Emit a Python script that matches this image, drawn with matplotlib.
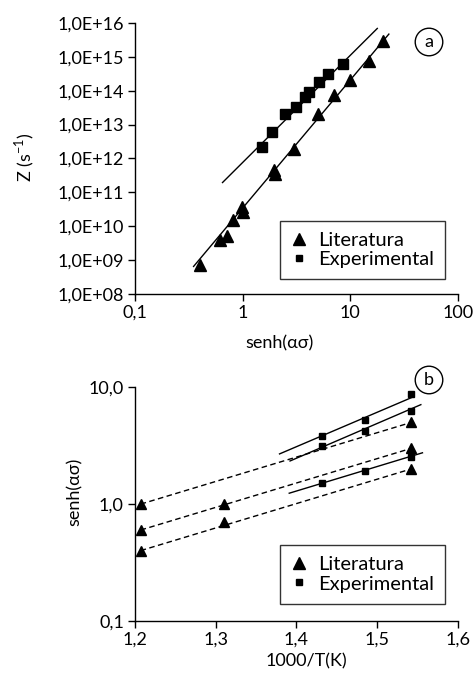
import matplotlib
matplotlib.use("Agg")
import matplotlib.pyplot as plt
from matplotlib.lines import Line2D

plt.rcParams['font.family'] = ['Lato', 'DejaVu Sans']
plt.rcParams['mathtext.fontset'] = 'custom'
plt.rcParams['mathtext.rm'] = 'Lato'

# ---- (a) Z vs senh(alpha*sigma) ----
lit_x = [0.40, 0.61, 0.71, 0.82, 0.99, 1.0, 1.96, 2.0, 3.0, 5.0, 7.1, 10, 15, 20]
lit_z = [7.2e8, 3.8e9, 5.0e9, 1.5e10, 3.8e10, 2.7e10, 4.6e11, 3.5e11, 1.9e12,
         2.0e13, 7.5e13, 2.1e14, 7.7e14, 3.0e15]
exp_x = [1.5, 1.88, 2.49, 3.15, 3.8, 4.13, 5.1, 6.2, 8.5]
exp_z = [2.2e12, 6.2e12, 2.0e13, 3.3e13, 6.7e13, 9.4e13, 1.85e14, 3.1e14, 6.2e14]
lit_fit_x = [0.35, 22.8]
lit_fit_z = [6.5e8, 4.7e15]
exp_fit_x = [0.65, 17.8]
exp_fit_z = [1.95e11, 6.9e15]

a_xticks = [0.1, 1, 10, 100]
a_xlabels = ['0,1', '1', '10', '100']
a_yticks = [1e8, 1e9, 1e10, 1e11, 1e12, 1e13, 1e14, 1e15, 1e16]
a_ylabels = ['1,0E+08', '1,0E+09', '1,0E+10', '1,0E+11', '1,0E+12',
             '1,0E+13', '1,0E+14', '1,0E+15', '1,0E+16']

# ---- (b) senh(alpha*sigma) vs 1000/T ----
lit_b_x = [[1.207, 1.542], [1.207, 1.31, 1.542], [1.207, 1.31, 1.542]]
lit_b_y = [[1.0, 5.0], [0.6, 1.0, 3.0], [0.4, 0.7, 2.0]]
exp_b_x = [1.432, 1.485, 1.542]
exp_b_y = [[3.83, 5.25, 8.7], [3.16, 4.25, 6.3], [1.53, 1.92, 2.53]]
exp_fit_bx = [[1.379, 1.545], [1.392, 1.554], [1.391, 1.556]]
exp_fit_by = [[2.69, 8.3], [2.34, 7.1], [1.24, 2.75]]

b_xticks = [1.2, 1.3, 1.4, 1.5, 1.6]
b_xlabels = ['1,2', '1,3', '1,4', '1,5', '1,6']
b_yticks = [0.1, 1.0, 10.0]
b_ylabels = ['0,1', '1,0', '10,0']

FS = 13

fig = plt.figure(figsize=(4.75, 6.78), dpi=100)
ax1 = fig.add_axes([0.2842, 0.5664, 0.68, 0.3997])
ax2 = fig.add_axes([0.2842, 0.0841, 0.68, 0.3447])


def style(ax):
    for s in ['top', 'right']:
        ax.spines[s].set_visible(False)
    for s in ['left', 'bottom']:
        ax.spines[s].set_linewidth(1.0)
    ax.tick_params(which='major', direction='out', length=5, width=1.0,
                   labelsize=FS, pad=3)
    ax.tick_params(which='minor', length=0)


# panel a
ax1.set_xscale('log')
ax1.set_yscale('log')
ax1.plot(lit_fit_x, lit_fit_z, color='black', lw=1.0)
ax1.plot(exp_fit_x, exp_fit_z, color='black', lw=1.0)
ax1.plot(lit_x, lit_z, '^', color='black', ms=9, clip_on=False)
ax1.plot(exp_x, exp_z, 's', color='black', ms=7, clip_on=False)
ax1.set_xlim(0.1, 100)
ax1.set_ylim(1e8, 1e16)
ax1.set_xticks(a_xticks)
ax1.set_xticklabels(a_xlabels)
ax1.set_yticks(a_yticks)
ax1.set_yticklabels(a_ylabels)
style(ax1)

# panel b
ax2.set_yscale('log')
for xs, ys in zip(lit_b_x, lit_b_y):
    ax2.plot([xs[0], xs[-1]], [ys[0], ys[-1]], color='black', lw=1.0,
             dashes=(4, 2.5))
    ax2.plot(xs, ys, '^', color='black', ms=7.5)
for xs, ys in zip(exp_fit_bx, exp_fit_by):
    ax2.plot(xs, ys, color='black', lw=1.0)
for ys in exp_b_y:
    ax2.plot(exp_b_x, ys, 's', color='black', ms=4.5)
ax2.set_xlim(1.2, 1.6)
ax2.set_ylim(0.1, 10)
ax2.set_xticks(b_xticks)
ax2.set_xticklabels(b_xlabels)
ax2.set_yticks(b_yticks)
ax2.set_yticklabels(b_ylabels)
style(ax2)

# legends
handles = [Line2D([], [], ls='none', marker='^', color='black', ms=8),
           Line2D([], [], ls='none', marker='s', color='black', ms=4)]
names = ['Literatura', 'Experimental']
for ax, anchor in [(ax1, (0.705, 0.162)), (ax2, (0.705, 0.2))]:
    leg = ax.legend(handles, names, loc='center', bbox_to_anchor=anchor,
                    fontsize=14.5, frameon=True, fancybox=False, borderpad=0.55,
                    handlelength=0.8, handletextpad=0.55, labelspacing=0.12,
                    borderaxespad=0)
    leg.get_frame().set_edgecolor('black')
    leg.get_frame().set_linewidth(1.0)

# axis labels
fig.text(279 / 475, 1 - 343 / 678, 'senh(ασ)', ha='center', va='center', fontsize=FS)
fig.text(306 / 475, 1 - 661 / 678, '1000/T(K)', ha='center', va='center', fontsize=FS)
fig.text(25 / 475, 1 - 157 / 678, 'Z (s$^{-1}$)', ha='center', va='center',
         rotation=90, fontsize=FS)
fig.text(75 / 475, 1 - 492 / 678, 'senh(ασ)', ha='center', va='center',
         rotation=90, fontsize=FS)

# panel tags
for lab, y in [('a', 42), ('b', 380)]:
    fig.text(429 / 475, 1 - y / 678, lab, ha='center', va='center', fontsize=FS,
             bbox=dict(boxstyle='circle,pad=0.32', fc='white', ec='black', lw=1.0))

fig.savefig('out.png', dpi=100)
